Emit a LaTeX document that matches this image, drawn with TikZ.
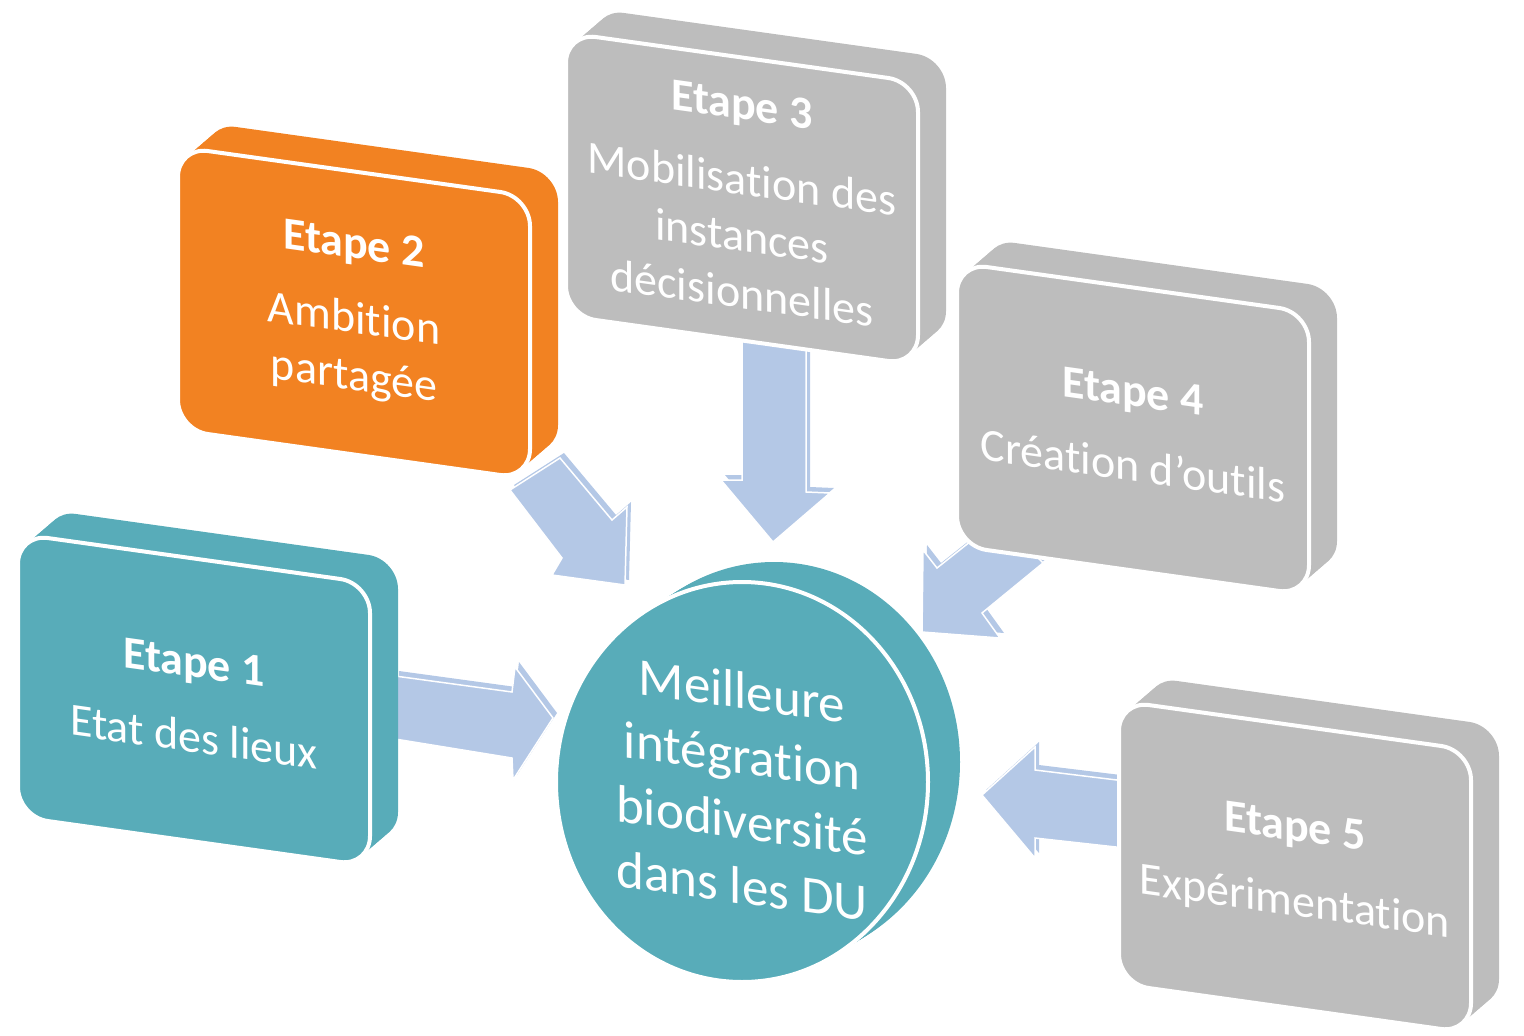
\documentclass[tikz,border=0pt]{standalone}
\usepackage{fontspec}
\setmainfont{Carlito}[RawFeature={-liga,-clig,-calt,-dlig}]
\definecolor{tealc}{HTML}{58ACB9}
\definecolor{orngc}{HTML}{F28222}
\definecolor{gryc}{HTML}{BDBDBD}
\definecolor{arwc}{HTML}{B4C8E6}
\tikzset{
  boxtext/.style={text=white, align=center, inner sep=0pt, transform shape,
    font=\fontsize{46}{57}\selectfont},
  circtext/.style={text=white, align=center, inner sep=0pt, transform shape,
    font=\fontsize{53}{65}\selectfont},
  arwback/.style={fill=arwc},
  arwfront/.style={fill=arwc, draw=white, line width=1.5, line join=miter},
}
\newcommand\stepbox[4]{%
  \begin{scope}[shift={#1}, yslant=-0.14]
    \foreach \t in {0,0.1,0.2,0.3,0.4,0.5,0.6,0.7,0.8,0.9,1}
      \fill[#2, shift={(28*\t,-28*\t)}, rounded corners=30] (-176,-141.5) rectangle (176,141.5);
    \filldraw[fill=#2, draw=white, line width=4, rounded corners=30] (-176,-141.5) rectangle (176,141.5);
    \node[boxtext] (#3) at (0,0) {#4};
  \end{scope}}
\newcommand\blockarw[1]{%
  \fill[arwback, shift={(4,-5)}] #1 -- cycle;
  \filldraw[arwfront] #1 -- cycle;}
\begin{document}
\begin{tikzpicture}[x=1pt, y=-1pt]
\useasboundingbox (0,0) rectangle (1524,1036);
\clip (0,0) rectangle (1524,1036);

% arrows
\blockarw{(395,676) -- (512,692) -- (515,667) -- (553,718) -- (513,780) -- (512,758) -- (395,739)}
\blockarw{(510,490) -- (560,458) -- (612,520) -- (627,507) -- (625,585) -- (552,575) -- (562,558)}
\blockarw{(742,340) -- (806,348) -- (806,492) -- (830,493) -- (773,542) -- (721,480) -- (742,480)}
\blockarw{(923,550) -- (937,568) -- (1000,518) -- (1043,563) -- (982,613) -- (1000,638) -- (922,632)}
\blockarw{(982,795) -- (1035,747) -- (1035,770) -- (1125,781) -- (1125,848) -- (1035,838) -- (1035,858)}

% boxes
\stepbox{(194,700)}{tealc}{s1}{\textbf{Etape 1}\\[18pt]Etat des lieux}
\stepbox{(354,313)}{orngc}{s2}{\textbf{Etape 2}\\[18pt]Ambition\\partagée}
\stepbox{(742,199)}{gryc}{s3}{\textbf{Etape 3}\\[18pt]Mobilisation des\\instances\\décisionnelles}
\stepbox{(1133,429)}{gryc}{s4}{\textbf{Etape 4}\\[18pt]Création d’outils}
\stepbox{(1295,867)}{gryc}{s5}{\textbf{Etape 5}\\[18pt]Expérimentation}

% central disc
\foreach \t in {0,0.1,0.2,0.3,0.4,0.5,0.6,0.7,0.8,0.9,1}
  \fill[tealc] ({742+32*\t},{782-20*\t}) ellipse [x radius=186, y radius=200];
\filldraw[fill=tealc, draw=white, line width=4] (742,782) ellipse [x radius=186, y radius=200];
\begin{scope}[shift={(742,788)}, yslant=-0.14]
  \node[circtext] (goal) at (0,0) {Meilleure\\intégration\\biodiversité\\dans les DU};
\end{scope}
\end{tikzpicture}
\end{document}
